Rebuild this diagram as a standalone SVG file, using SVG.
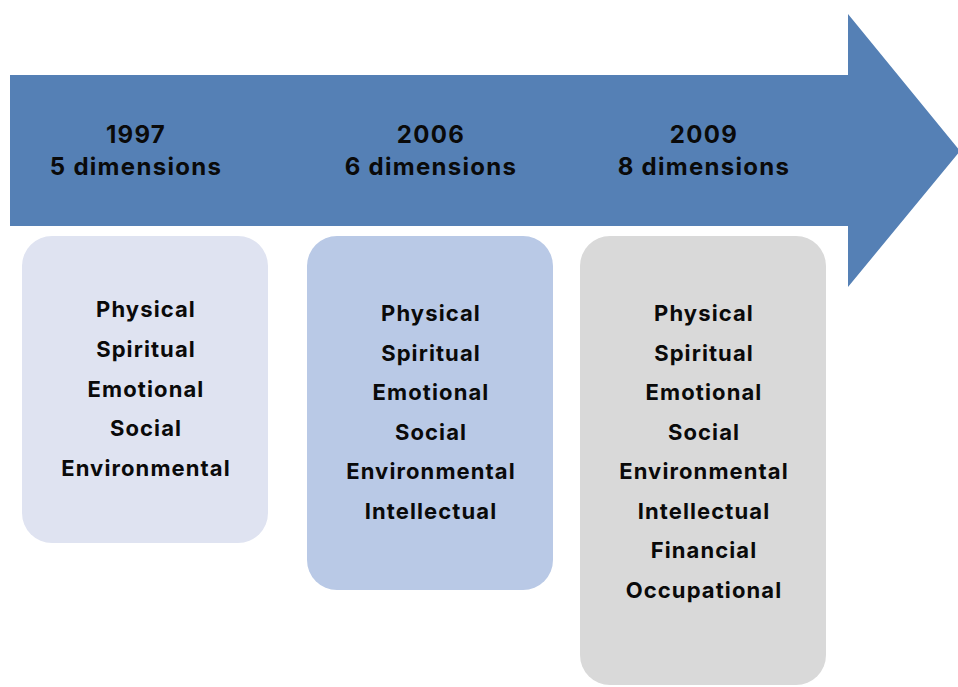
<svg xmlns="http://www.w3.org/2000/svg" width="958" height="687" viewBox="0 0 958 687">
  <style>
    text { font-family: Inter, "Liberation Sans", sans-serif; font-weight: 700; fill: #0a0a0a; text-anchor: middle; }
    .hdr { font-size: 24px; letter-spacing: 1.3px; }
    .item { font-size: 22px; letter-spacing: 1.1px; }
  </style>
  <rect width="958" height="687" fill="#ffffff"/>
  <!-- timeline arrow -->
  <g id="timeline">
    <path d="M10,75 H848 V14 L960,151 L848,287 V226 H10 Z" fill="#5580b5"/>
    <text class="hdr" x="136" y="143">1997</text>
    <text class="hdr" x="136" y="175">5 dimensions</text>
    <text class="hdr" x="431" y="143">2006</text>
    <text class="hdr" x="431" y="175">6 dimensions</text>
    <text class="hdr" x="704" y="143">2009</text>
    <text class="hdr" x="704" y="175">8 dimensions</text>
  </g>
  <g id="model-1997">
    <rect x="22" y="236" width="246" height="307" rx="30" fill="#dfe3f1"/>
    <text class="item" x="146" y="317">Physical</text>
    <text class="item" x="146" y="357">Spiritual</text>
    <text class="item" x="146" y="397">Emotional</text>
    <text class="item" x="146" y="436">Social</text>
    <text class="item" x="146" y="476">Environmental</text>
  </g>
  <g id="model-2006">
    <rect x="307" y="236" width="246" height="354" rx="30" fill="#b9c9e6"/>
    <text class="item" x="431" y="321">Physical</text>
    <text class="item" x="431" y="361">Spiritual</text>
    <text class="item" x="431" y="400">Emotional</text>
    <text class="item" x="431" y="440">Social</text>
    <text class="item" x="431" y="479">Environmental</text>
    <text class="item" x="431" y="519">Intellectual</text>
  </g>
  <g id="model-2009">
    <rect x="580" y="236" width="246" height="449" rx="30" fill="#d9d9d9"/>
    <text class="item" x="704" y="321">Physical</text>
    <text class="item" x="704" y="361">Spiritual</text>
    <text class="item" x="704" y="400">Emotional</text>
    <text class="item" x="704" y="440">Social</text>
    <text class="item" x="704" y="479">Environmental</text>
    <text class="item" x="704" y="519">Intellectual</text>
    <text class="item" x="704" y="558">Financial</text>
    <text class="item" x="704" y="598">Occupational</text>
  </g>
  <g id="connectors"/>
</svg>
